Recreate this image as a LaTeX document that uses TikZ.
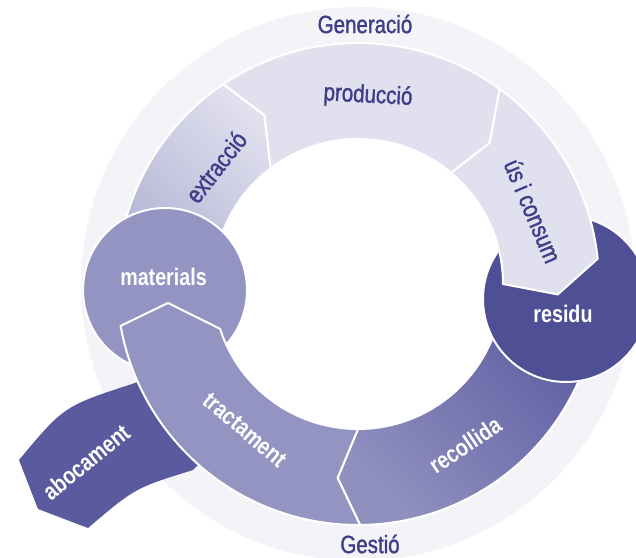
\documentclass[tikz,border=0pt]{standalone}
\usepackage{fontspec}
\setmainfont{Liberation Sans}
\newfontfamily\labelfont{Liberation Sans}[FakeStretch=0.82]
\newfontfamily\inkfont{Liberation Sans}[FakeStretch=0.82, FakeBold=1.3]
\usetikzlibrary{positioning}
\definecolor{Ink}{HTML}{3D3D8A}
\definecolor{Haze}{HTML}{F4F4F8}
\definecolor{Lilac}{HTML}{E0E0EE}
\definecolor{LilacDark}{HTML}{B4B4D6}
\definecolor{Mid}{HTML}{9494C2}
\definecolor{RecDark}{HTML}{5858A0}
\definecolor{RecLight}{HTML}{9090BF}
\definecolor{Deep}{HTML}{4F4F95}
\definecolor{Sink}{HTML}{5A5A9E}
\definecolor{White}{HTML}{FFFFFF}
\tikzset{
    segment/.style={draw=White, line width=1pt},
    bubble/.style={circle, draw=White, line width=1pt, inner sep=0pt},
    darklabel/.style={text=Ink, font=\inkfont\fontsize{12.5}{14}\selectfont},
    whitelabel/.style={text=White, font=\labelfont\bfseries\fontsize{12}{14}\selectfont},
}
\begin{document}
\begin{tikzpicture}[x=0.5pt, y=0.5pt]
    \useasboundingbox (-358,-273) rectangle (278,284);
    \fill[Haze] (0,0) circle[radius=277];
    \fill[White] (0,0) circle[radius=145];

    % gestio
    \path[segment, top color=RecDark, bottom color=RecLight, shading angle=-45]
        (5:241) arc[start angle=5, end angle=-89.5, radius=241] -- (264:195) -- (270:145)
        arc[start angle=-90, end angle=5, radius=145] -- cycle;
    \node[bubble, fill=Deep, minimum size=83pt] (res) at (208,-15) {};

    % generacio
    \path[segment, top color=Lilac, bottom color=LilacDark, shading angle=-45]
        (175:241) arc[start angle=175, end angle=124, radius=241] -- (119:193) -- (127:145)
        arc[start angle=127, end angle=175, radius=145] -- cycle;
    \path[segment, fill=Lilac]
        (127:145) -- (119:193) -- (124:241) arc[start angle=124, end angle=54, radius=241]
        -- (47:193) -- (50:145) arc[start angle=50, end angle=127, radius=145] -- cycle;
    \path[segment, fill=Lilac]
        (50:145) -- (47:193) -- (54:241) arc[start angle=54, end angle=6, radius=241]
        -- (-3:200) -- (0:145) arc[start angle=0, end angle=50, radius=145] -- cycle;

    \node[bubble, fill=Mid, minimum size=82pt] (mat) at (-193,-6) {};

    \path[fill=Sink] (-200,-90) -- (-223,-99) .. controls (-294,-122) .. (-339,-176)
        -- (-320,-225) -- (-270,-244) .. controls (-223,-204) .. (-165,-186) -- (-145,-165) -- cycle;
    \path[segment, fill=Mid]
        (270.5:241) arc[start angle=270.5, end angle=190, radius=241] -- (185.7:191) -- (198:145)
        arc[start angle=198, end angle=270, radius=145] -- (264:195) -- cycle;

    \node[darklabel] (gen) at (7,260) {Generació};
    \node[darklabel, rotate=-3] (prod) at (10,188) {producció};
    \node[darklabel, rotate=52] (extr) at (-142,117) {extracció};
    \node[darklabel, rotate=-67] (us) at (175,73) {ús i consum};
    \node[whitelabel] (matlabel) at ([xshift=-0.75pt, yshift=6.5pt]mat.center) {materials};
    \node[whitelabel] (reslabel) at ([xshift=-1.5pt, yshift=-7.5pt]res.center) {residu};
    \node[whitelabel, rotate=34] (rec) at (107,-161) {recollida};
    \node[whitelabel, rotate=-40] (tract) at (-113,-146) {tractament};
    \node[whitelabel, rotate=39] (abo) at (-272,-178) {abocament};
    \node[darklabel] (gest) at (12,-260) {Gestió};
\end{tikzpicture}
\end{document}
